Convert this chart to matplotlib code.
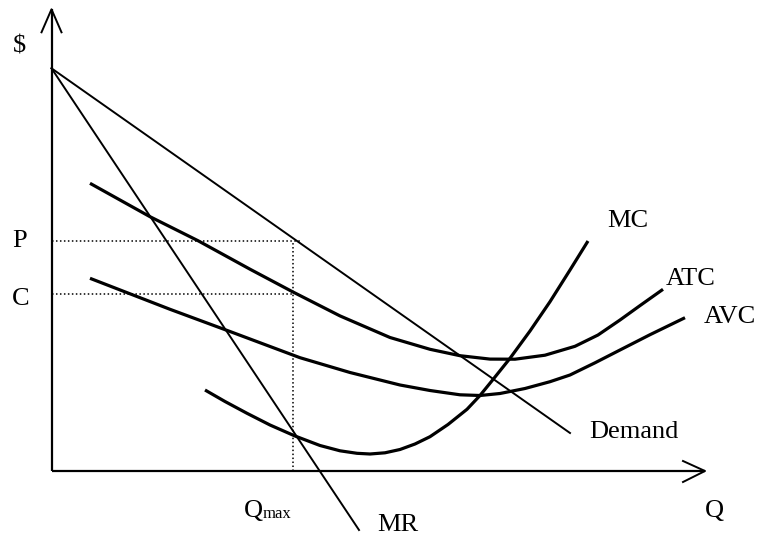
import matplotlib
matplotlib.use("Agg")
import matplotlib.pyplot as plt

# ---- data (quantity and $ in arbitrary units, origin at the axis corner) ----
demand_q = [0.0, 518.5]
demand_p = [402.7, 38.0]

mr_q = [0.0, 307.5]
mr_p = [402.7, -59.0]

atc_q = [38.5, 98.5, 146.5, 198.5, 241.5, 288.5, 338.5, 378.5, 408.5, 438.5,
         463.5, 493.5, 523.5, 546.5, 568.5, 588.5, 611.5]
atc_p = [287.7, 254.3, 230.3, 201.8, 179.0, 155.1, 133.5, 121.7, 115.3, 111.9,
         111.8, 115.8, 124.7, 136.0, 151.0, 165.4, 181.7]

avc_q = [38.5, 118.5, 178.5, 248.5, 298.5, 348.5, 378.5, 408.5, 428.5, 448.5,
         473.5, 498.5, 518.5, 543.5, 568.5, 598.5, 633.5]
avc_p = [192.7, 161.7, 139.5, 113.3, 98.5, 86.0, 80.5, 76.2, 75.5, 77.5,
         82.5, 89.3, 96.0, 108.2, 121.0, 136.3, 153.3]

mc_q = [153.5, 173.5, 195.5, 218.5, 243.5, 268.5, 288.5, 305.5, 318.5, 333.5,
        348.5, 363.5, 378.5, 396.5, 415.5, 428.5, 441.5, 458.5, 478.5, 498.5,
        518.5, 536.5]
mc_p = [81.0, 69.5, 57.7, 46.0, 35.0, 25.5, 20.2, 17.7, 17.0, 18.2,
        21.5, 27.0, 34.3, 46.5, 61.7, 75.5, 91.5, 112.7, 140.0, 169.3,
        201.0, 230.0]

price_P = 230.3
cost_C = 177.0
q_max = 241.5
q_end = 653.5
p_end = 461.7

W, H = 762, 535
fig = plt.figure(figsize=(W / 100, H / 100), dpi=100)
x0, x1 = 51.5, 705.0
y0, y1 = 471.0, 9.3
ax = fig.add_axes([x0 / W, (H - y0) / H, (x1 - x0) / W, (y0 - y1) / H])
ax.set_xlim(0, q_end)
ax.set_ylim(0, p_end)
ax.axis("off")

k = "black"
# axes with open arrow heads
ax.plot([0, 0], [0, p_end], color=k, lw=1.6, clip_on=False, solid_capstyle="butt")
ax.plot([0, q_end], [0, 0], color=k, lw=1.6, clip_on=False, solid_capstyle="butt")
ax.plot([-10, 0, 10], [p_end - 23, p_end, p_end - 23], color=k, lw=1.4, clip_on=False)
ax.plot([q_end - 22, q_end, q_end - 22], [10, 0, -11], color=k, lw=1.4, clip_on=False)

# dotted guides
dot = dict(color=k, lw=1.1, ls=(0, (1, 1.6)), clip_on=False)
ax.plot([0, q_max + 8], [price_P, price_P], **dot)
ax.plot([0, q_max], [cost_C, cost_C], **dot)
ax.plot([q_max, q_max], [0, price_P], **dot)

# curves
ax.plot(demand_q, demand_p, color=k, lw=1.4, clip_on=False)
ax.plot(mr_q, mr_p, color=k, lw=1.4, clip_on=False)
for qs, ps in ((atc_q, atc_p), (avc_q, avc_p), (mc_q, mc_p)):
    ax.plot(qs, ps, color=k, lw=2.3, clip_on=False,
            solid_joinstyle="round", solid_capstyle="butt")

# labels (positions in figure pixels)
def lab(s, x, y, size=19, ha="left", va="baseline"):
    fig.text(x / W, (H - y) / H, s, fontsize=size, family="Liberation Serif",
             ha=ha, va=va)

lab("$", 13, 52)
lab("P", 12, 247)
lab("C", 12, 305)
lab("Q", 244, 517)
lab("max", 263, 518, size=12)
lab("MR", 377, 531)
lab("Q", 705, 517)
lab("Demand", 589, 438)
lab("MC", 607, 227)
lab("ATC", 666, 285)
lab("AVC", 704, 323)

fig.savefig("out.png", dpi=100)
